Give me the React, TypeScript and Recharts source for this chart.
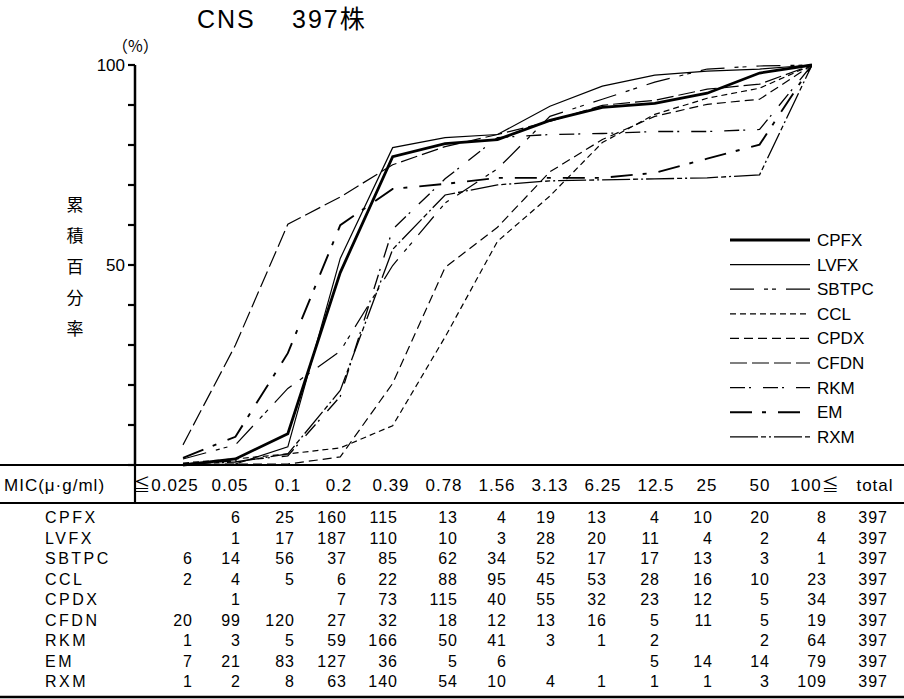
import React from 'react';
import { LineChart, Line, XAxis, YAxis } from 'recharts';

// MIC columns (µg/ml)
const MIC = ['≦0.025', '0.05', '0.1', '0.2', '0.39', '0.78', '1.56', '3.13', '6.25', '12.5', '25', '50', '100≦'];

// Number of strains at each MIC (null = empty cell)
const CPFX = [null, 6, 25, 160, 115, 13, 4, 19, 13, 4, 10, 20, 8];
const LVFX = [null, 1, 17, 187, 110, 10, 3, 28, 20, 11, 4, 2, 4];
const SBTPC = [6, 14, 56, 37, 85, 62, 34, 52, 17, 17, 13, 3, 1];
const CCL = [2, 4, 5, 6, 22, 88, 95, 45, 53, 28, 16, 10, 23];
const CPDX = [null, 1, null, 7, 73, 115, 40, 55, 32, 23, 12, 5, 34];
const CFDN = [20, 99, 120, 27, 32, 18, 12, 13, 16, 5, 11, 5, 19];
const RKM = [1, 3, 5, 59, 166, 50, 41, 3, 1, 2, null, 2, 64];
const EM = [7, 21, 83, 127, 36, 5, 6, null, null, 5, 14, 14, 79];
const RXM = [1, 2, 8, 63, 140, 54, 10, 4, 1, 1, 1, 3, 109];
const TOTALS = [397, 397, 397, 397, 397, 397, 397, 397, 397];

const DRUGS = ['CPFX', 'LVFX', 'SBTPC', 'CCL', 'CPDX', 'CFDN', 'RKM', 'EM', 'RXM'];
const COUNTS: (number | null)[][] = [CPFX, LVFX, SBTPC, CCL, CPDX, CFDN, RKM, EM, RXM];

const Y_TICKS = [0, 10, 20, 30, 40, 50, 60, 70, 80, 90, 100];

// line look per drug
const STYLE: Record<string, { w: number; dash?: string }> = {
  CPFX: { w: 2.8 },
  LVFX: { w: 1.2 },
  SBTPC: { w: 1.2, dash: '24 10 4 4 4 10' },
  CCL: { w: 1.2, dash: '6 4' },
  CPDX: { w: 1.2, dash: '9 5' },
  CFDN: { w: 1.2, dash: '17 5' },
  RKM: { w: 1.3, dash: '15 4 2 12' },
  EM: { w: 1.9, dash: '22 10 4 12' },
  RXM: { w: 1.3, dash: '28 3 5 3 2 3' },
};

// cumulative percentage of strains inhibited at or below each MIC
const data = MIC.map((mic, i) => {
  const row: Record<string, number | string> = { idx: i, mic };
  DRUGS.forEach((d, k) => {
    let sum = 0;
    for (let j = 0; j <= i; j++) sum += COUNTS[k][j] ?? 0;
    row[d] = (sum / TOTALS[k]) * 100;
  });
  return row;
});

const W = 904;
const H = 699;
const FONT = "'Liberation Sans', Arial, 'Noto Sans CJK JP', sans-serif";
const CJK = "'Noto Sans CJK JP', sans-serif";

// table geometry
const TICK_X = [183, 235, 288, 340, 393, 446, 498, 550, 603, 655, 707, 760, 812];
const HEAD_X = [166, 230, 288, 339, 391, 444, 497, 550, 603, 656, 707, 760, 815];
const CELL_RIGHT = [193, 241, 295, 347, 398, 458, 507, 556, 607, 660, 713, 770, 827];
const TOTAL_RIGHT = 888;
const ROW0 = 517;
const ROW_STEP = 20.5;

function Overlay() {
  return (
    <svg width={W} height={H} style={{ position: 'absolute', left: 0, top: 0, pointerEvents: 'none' }} fontFamily={FONT}>
      {/* title */}
      <text x={197} y={28} fontSize={25} letterSpacing={2} fill="#000">CNS</text>
      <text x={292} y={28} fontSize={25} letterSpacing={2} fill="#000">397株</text>
      <text x={112} y={52} fontSize={16} fontFamily={CJK} fill="#000">（%）</text>
      {['累', '積', '百', '分', '率'].map((c, i) => (
        <text key={c} x={75} y={211 + i * 31} fontSize={17} fontFamily={CJK} textAnchor="middle" fill="#000">{c}</text>
      ))}

      {/* rules */}
      <line x1={0} x2={W} y1={465} y2={465} stroke="#000" strokeWidth={2.2} />
      <line x1={135} x2={135} y1={465} y2={503} stroke="#000" strokeWidth={2.2} />
      <line x1={0} x2={W} y1={503} y2={503} stroke="#000" strokeWidth={2.2} />
      <line x1={0} x2={W} y1={697} y2={697} stroke="#000" strokeWidth={2.5} />

      {/* header row */}
      <text x={4} y={491} fontSize={17} letterSpacing={1} fill="#000">MIC(μ·g/ml)</text>
      {MIC.map((m, i) => (
        <text key={m} x={HEAD_X[i]} y={491} fontSize={17} letterSpacing={1} textAnchor="middle" fill="#000">{m}</text>
      ))}
      <text x={875} y={491} fontSize={17} letterSpacing={1} textAnchor="middle" fill="#000">total</text>

      {/* body rows */}
      {DRUGS.map((d, r) => {
        const y = ROW0 + r * ROW_STEP + 6;
        return (
          <g key={d}>
            <text x={45} y={y} fontSize={16} letterSpacing={2.5} fill="#000">{d}</text>
            {COUNTS[r].map((v, c) =>
              v == null ? null : (
                <text key={c} x={CELL_RIGHT[c]} y={y} fontSize={16} letterSpacing={1} textAnchor="end" fill="#000">{v}</text>
              )
            )}
            <text x={TOTAL_RIGHT} y={y} fontSize={16} letterSpacing={1} textAnchor="end" fill="#000">{TOTALS[r]}</text>
          </g>
        );
      })}

      {/* legend */}
      {DRUGS.map((d, i) => {
        const y = 240 + i * 24.6;
        const s = STYLE[d];
        return (
          <g key={d}>
            <line x1={730} x2={810} y1={y} y2={y} stroke="#000" strokeWidth={s.w} strokeDasharray={s.dash} />
            <text x={817} y={y + 6} fontSize={17} fill="#000">{d}</text>
          </g>
        );
      })}
    </svg>
  );
}

export default function App() {
  // index 0 sits at TICK_X[0]; extend domain left so the y axis lands at x=135
  const step = (TICK_X[12] - TICK_X[0]) / 12;
  const xMin = -(TICK_X[0] - 135) / step;
  return (
    <div style={{ position: 'absolute', left: 0, top: 0, width: W, height: H, background: '#fff' }}>
      <LineChart
        width={W}
        height={H}
        data={data}
        margin={{ top: 65, right: W - TICK_X[12], bottom: H - 465 - 8, left: 0 }}
      >
        <XAxis
          dataKey="idx"
          type="number"
          domain={[xMin, 12]}
          allowDataOverflow
          ticks={[0, 1, 2, 3, 4, 5, 6, 7, 8, 9, 10, 11, 12]}
          height={8}
          tickSize={6}
          tick={false}
          axisLine={false}
          tickLine={{ stroke: '#000', strokeWidth: 2 }}
        />
        <YAxis
          type="number"
          domain={[0, 100]}
          ticks={Y_TICKS}
          width={135}
          tickSize={7}
          tickMargin={3}
          axisLine={{ stroke: '#000', strokeWidth: 2.5 }}
          tickLine={{ stroke: '#000', strokeWidth: 2.2 }}
          tick={{ fill: '#000', fontSize: 17, fontFamily: FONT }}
          tickFormatter={(v: number) => (v === 50 || v === 100 ? String(v) : '')}
        />
        {DRUGS.map((d) => (
          <Line
            key={d}
            dataKey={d}
            type="linear"
            stroke="#000"
            strokeWidth={STYLE[d].w}
            strokeDasharray={STYLE[d].dash}
            dot={false}
            activeDot={false}
            isAnimationActive={false}
          />
        ))}
      </LineChart>
      <Overlay />
    </div>
  );
}
